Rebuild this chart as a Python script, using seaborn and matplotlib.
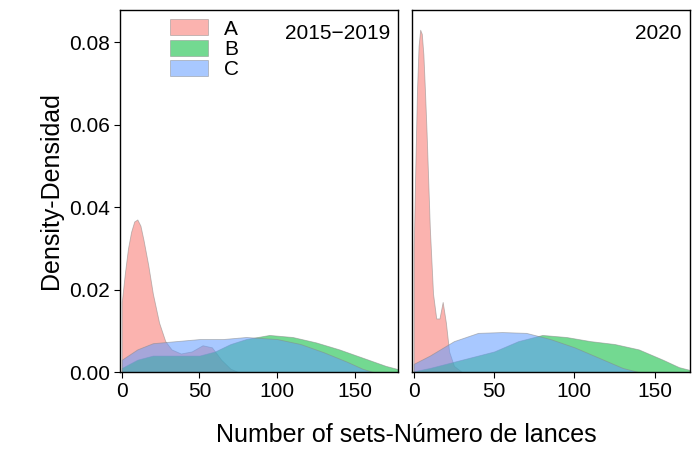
import numpy as np
import matplotlib
matplotlib.use('Agg')
import matplotlib.pyplot as plt
import seaborn as sns

groups = ['A', 'B', 'C']
colors = {'A': '#F8766D', 'B': '#00BA38', 'C': '#619CFF'}
panels = ['2015\u22122019', '2020']

# density curves: (x, density)
x_a1 = [0, 2, 4, 6, 8, 10, 12, 14, 17, 20, 24, 28, 32, 38, 45, 52, 58, 64, 70, 75]
y_a1 = [0.017, 0.024, 0.030, 0.034, 0.0365, 0.037, 0.0355, 0.032, 0.026, 0.019, 0.012, 0.0075, 0.0055, 0.0045, 0.005, 0.0065, 0.006, 0.003, 0.0008, 0]
x_b1 = [0, 10, 20, 35, 50, 60, 70, 80, 95, 110, 125, 140, 155, 170, 180, 186]
y_b1 = [0.001, 0.003, 0.004, 0.004, 0.004, 0.005, 0.0068, 0.008, 0.009, 0.0085, 0.0072, 0.0055, 0.0035, 0.0015, 0.0005, 0]
x_c1 = [0, 10, 20, 35, 50, 65, 80, 100, 115, 130, 145, 155, 162]
y_c1 = [0.003, 0.0055, 0.007, 0.0075, 0.008, 0.008, 0.0085, 0.008, 0.0068, 0.0048, 0.0025, 0.0008, 0]
x_a2 = [0, 1, 2, 3, 4, 5, 6, 7, 8, 10, 12, 14, 16, 18, 20, 22, 25, 30]
y_a2 = [0.03, 0.05, 0.068, 0.079, 0.083, 0.082, 0.077, 0.068, 0.058, 0.035, 0.019, 0.013, 0.013, 0.017, 0.012, 0.005, 0.0015, 0]
x_b2 = [0, 10, 20, 35, 50, 65, 80, 95, 110, 125, 140, 155, 165, 175]
y_b2 = [0.0002, 0.001, 0.002, 0.0035, 0.005, 0.0075, 0.009, 0.0085, 0.0075, 0.0068, 0.0055, 0.003, 0.0012, 0.0002]
x_c2 = [0, 10, 25, 40, 55, 70, 85, 100, 115, 130, 140]
y_c2 = [0.002, 0.004, 0.0075, 0.0095, 0.0097, 0.0095, 0.008, 0.006, 0.0035, 0.001, 0]

curves = {
    0: {'A': (x_a1, y_a1), 'B': (x_b1, y_b1), 'C': (x_c1, y_c1)},
    1: {'A': (x_a2, y_a2), 'B': (x_b2, y_b2), 'C': (x_c2, y_c2)},
}

sns.set_style('ticks')
plt.rcParams['font.family'] = ['Liberation Sans', 'DejaVu Sans']
plt.rcParams['text.color'] = 'black'
plt.rcParams['axes.labelcolor'] = 'black'

fig, axes = plt.subplots(1, 2, figsize=(6.95, 4.51), dpi=100, sharey=True)
fig.subplots_adjust(left=0.173, right=0.993, top=0.978, bottom=0.175, wspace=0.05)

for i, ax in enumerate(axes):
    for g in groups:
        xs, ys = curves[i][g]
        ax.fill_between(xs, ys, color=colors[g], alpha=0.55, edgecolor='#888888',
                        linewidth=0.6, label=g)
    ax.set_xlim(-1, 178 if i == 0 else 172)
    ax.set_ylim(0, 0.0878)
    ax.set_xticks([0, 50, 100, 150])
    ax.set_yticks([0, 0.02, 0.04, 0.06, 0.08])
    ax.yaxis.set_major_formatter(matplotlib.ticker.FormatStrFormatter('%.2f'))
    ax.tick_params(labelsize=15, length=4, colors='black')
    ax.text(0.97, 0.96, panels[i], transform=ax.transAxes, ha='right', va='top', fontsize=15)
    for s in ax.spines.values():
        s.set_color('black')
        s.set_linewidth(1.0)
    if i == 1:
        ax.tick_params(axis='y', length=0)

axes[0].set_ylabel('Density-Densidad', fontsize=18)
axes[0].legend(loc='upper left', bbox_to_anchor=(0.12, 1.02), frameon=False, fontsize=15,
               handlelength=1.8, handleheight=0.8, labelspacing=0.05, borderpad=0.3)
fig.text(0.585, 0.02, 'Number of sets-Número de lances', ha='center', fontsize=18)

fig.savefig('out.png', dpi=100)
